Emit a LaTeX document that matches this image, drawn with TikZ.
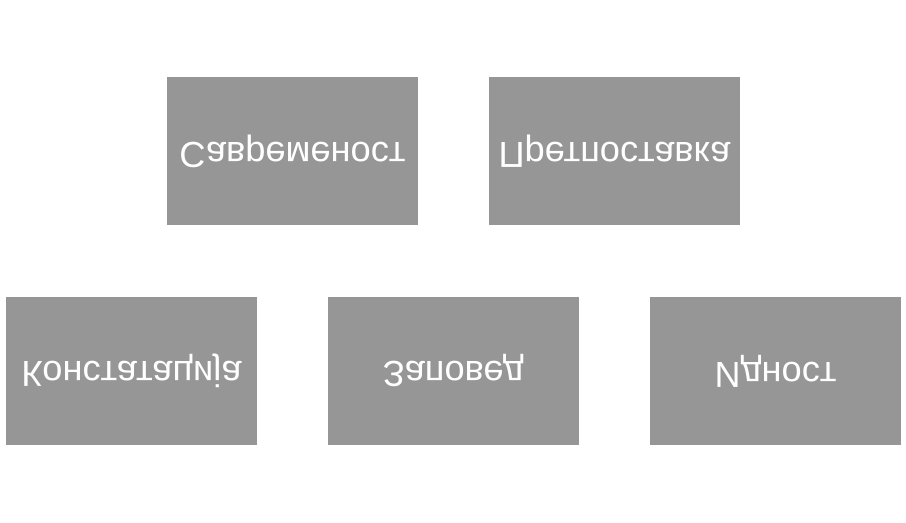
\documentclass[tikz,border=0pt]{standalone}
\usepackage{fontspec}
\setmainfont{Liberation Sans}
\usepackage{graphicx}
\newcommand{\renverse}[1]{\scalebox{1}[-1]{#1}}
\definecolor{grisboite}{HTML}{979696}
\begin{document}
\begin{tikzpicture}[boite/.style={fill=grisboite,draw=none,minimum width=5.02cm,minimum height=2.96cm,inner sep=0pt,outer sep=0pt,text=white,font=\fontsize{20.6}{24}\selectfont}]
\useasboundingbox (0,0) rectangle (18.12,10.46) ;
% ligne du haut
\node[boite] (sav) at (5.85,7.44) {\renverse{Савременост}} ;
\node[boite] (pret) at (12.29,7.44) {\renverse{Претпоставка}} ;
% ligne du bas
\node[boite] (konst) at (2.63,3.04) {\renverse{Констатација}} ;
\node[boite] (zap) at (9.07,3.04) {\renverse{Заповед}} ;
\node[boite] (idn) at (15.51,3.04) {\renverse{Идност}} ;
\end{tikzpicture}
\end{document}
